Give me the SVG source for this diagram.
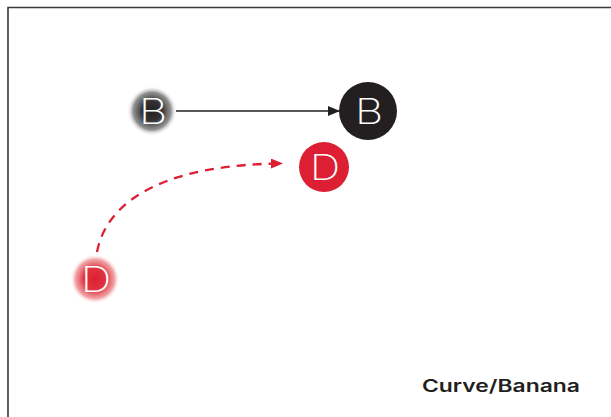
<svg xmlns="http://www.w3.org/2000/svg" width="611" height="417" viewBox="0 0 611 417">
  <defs>
    <radialGradient id="fadeDark" cx="0.5" cy="0.5" r="0.5">
      <stop offset="0" stop-color="#231f20"/>
      <stop offset="0.4" stop-color="#333132"/>
      <stop offset="0.75" stop-color="#7d7d7d" stop-opacity="0.85"/>
      <stop offset="1" stop-color="#ffffff" stop-opacity="0"/>
    </radialGradient>
    <radialGradient id="fadeRed" cx="0.5" cy="0.5" r="0.5">
      <stop offset="0" stop-color="#dc1f32"/>
      <stop offset="0.45" stop-color="#e0343f"/>
      <stop offset="0.78" stop-color="#ec8a8e" stop-opacity="0.8"/>
      <stop offset="1" stop-color="#ffffff" stop-opacity="0"/>
    </radialGradient>
    <marker id="headDark" viewBox="0 0 12 10" refX="12" refY="5" markerWidth="12" markerHeight="10" markerUnits="userSpaceOnUse" orient="auto">
      <path d="M0,0 L12,5 L0,10 Z" fill="#231f20"/>
    </marker>
    <marker id="headRed" viewBox="0 0 12 10" refX="12" refY="5" markerWidth="12" markerHeight="10" markerUnits="userSpaceOnUse" orient="auto">
      <path d="M0,0 L12,5 L0,10 Z" fill="#dc1f32"/>
    </marker>
  </defs>
  <style>
    .letter { font-family: "Inter", "Liberation Sans", sans-serif; font-weight: 200; font-size: 35px; fill: #ffffff; text-anchor: middle; }
    .caption { font-family: "Inter", "Liberation Sans", sans-serif; font-weight: 600; font-size: 17px; fill: #231f20; }
  </style>

  <rect width="611" height="417" fill="#ffffff"/>
  <!-- frame: top and left edges -->
  <path d="M8,417 V7.5 H611" fill="none" stroke="#3a3a3a" stroke-width="1.6"/>

  <g id="connectors">
    <line x1="176" y1="111" x2="340" y2="111" stroke="#231f20" stroke-width="1.5" marker-end="url(#headDark)"/>
    <path d="M97,252 C108,195 175,164 283,163.5" fill="none" stroke="#dc1f32" stroke-width="2.3" stroke-dasharray="9,7" marker-end="url(#headRed)"/>
  </g>

  <!-- letters are widened slightly for a geometric look -->
  <g id="node-b-start">
    <circle cx="152" cy="111" r="25" fill="url(#fadeDark)"/>
    <text class="letter" transform="translate(153,124) scale(1.25,1)">B</text>
  </g>
  <g id="node-b-end">
    <circle cx="368" cy="111" r="29" fill="#231f20"/>
    <text class="letter" transform="translate(369,124) scale(1.25,1)">B</text>
  </g>
  <g id="node-d-end">
    <circle cx="324" cy="167" r="25" fill="#dc1f32"/>
    <text class="letter" transform="translate(325,180) scale(1.2,1)">D</text>
  </g>
  <g id="node-d-start">
    <circle cx="95" cy="279" r="25" fill="url(#fadeRed)"/>
    <text class="letter" transform="translate(96,292) scale(1.2,1)">D</text>
  </g>

  <text class="caption" x="422" y="392" textLength="158" lengthAdjust="spacingAndGlyphs">Curve/Banana</text>
</svg>
